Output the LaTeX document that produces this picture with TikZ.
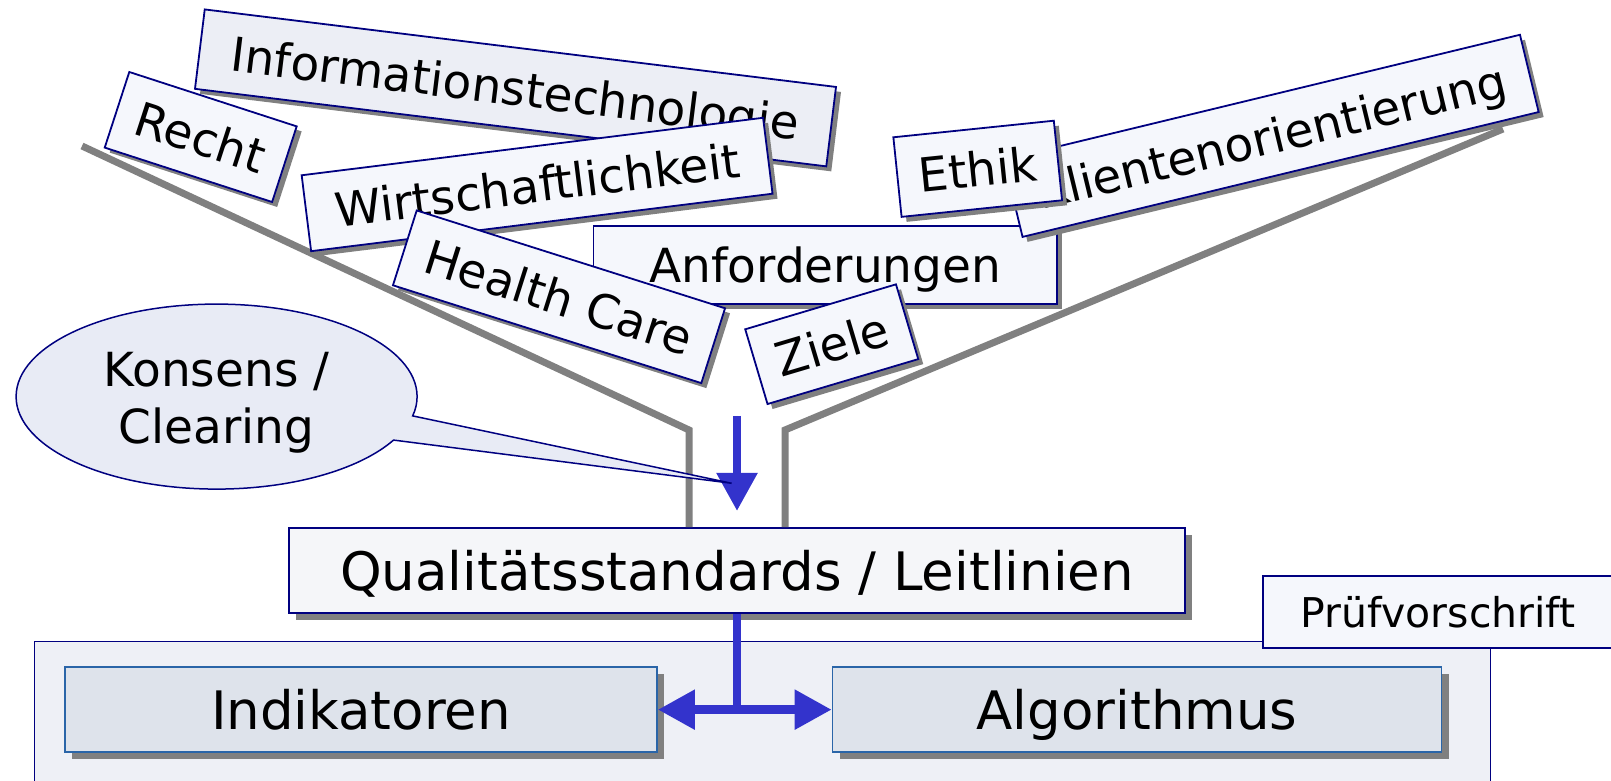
\documentclass[tikz,border=0pt]{standalone}
\usepackage{fontspec}
\setmainfont{DejaVu Sans}
\usetikzlibrary{arrows.meta,shadows,shapes.callouts,calc}
\definecolor{navy}{HTML}{000080}
\definecolor{lblfill}{HTML}{F5F7FC}
\definecolor{infofill}{HTML}{ECEEF5}
\definecolor{qfill}{HTML}{F5F6F9}
\definecolor{framefill}{HTML}{EEF0F6}
\definecolor{calloutfill}{HTML}{E8EBF5}
\definecolor{innerfill}{HTML}{DEE3EB}
\definecolor{innerdraw}{HTML}{2A65A8}
\definecolor{shadowgray}{HTML}{808080}
\definecolor{funnelgray}{HTML}{808080}
\definecolor{arrowblue}{HTML}{3333CC}
\tikzset{
  lbl/.style={draw=navy, line width=1.8pt, fill=lblfill, inner sep=0pt,
    font=\fontsize{47}{56}\selectfont, text height=45pt, text depth=9.4pt,
    drop shadow={shadow xshift=5pt, shadow yshift=-5pt, opacity=1, fill=shadowgray}},
  mainbox/.style={draw=navy, line width=1.8pt, fill=qfill, inner sep=0pt,
    font=\fontsize{53}{60}\selectfont, text height=50pt, text depth=10.4pt,
    drop shadow={shadow xshift=7pt, shadow yshift=-7pt, opacity=1, fill=shadowgray}},
  innerbox/.style={mainbox, draw=innerdraw, fill=innerfill},
  framebox/.style={draw=navy, line width=1.5pt, fill=framefill, inner sep=0pt},
  pruefbox/.style={draw=navy, line width=1.8pt, fill=lblfill, inner sep=0pt,
    font=\fontsize{41}{48}\selectfont, text height=38pt, text depth=8pt},
  funnel/.style={draw=funnelgray, line width=7pt},
  bluearrow/.style={draw=arrowblue, fill=arrowblue, line width=8.5pt},
  bubble/.style={ellipse callout, draw=navy, line width=1.5pt, fill=calloutfill,
    inner sep=0pt, minimum width=401pt, minimum height=185pt,
    callout pointer arc=16},
  bubbletext/.style={font=\fontsize{47}{57}\selectfont, align=center, inner sep=0pt},
}
\begin{document}
\begin{tikzpicture}[x=1pt,y=1pt]
\useasboundingbox (0,0) rectangle (1611,781);
\clip (0,0) rectangle (1611,781);

% lower frame and Pruefvorschrift
\node[framebox, anchor=north west, minimum width=1456pt, minimum height=180pt] (frame) at (33.5,140.3) {};
\node[pruefbox, minimum width=350pt, minimum height=72.3pt] (pruef) at (1438,168.85) {Prüfvorschrift};

% main box
\node[mainbox, minimum width=896pt, minimum height=85pt] (q) at (737,210.5) {Qualitätsstandards / Leitlinien};

% funnel
\coordinate (fl1) at (82,635);
\coordinate (fl2) at (689,351);
\coordinate (fr1) at (1503,652);
\coordinate (fr2) at (785,351);
\draw[funnel] (fl1) -- (fl2) -- (fl2 |- q.north);
\draw[funnel] (fr1) -- (fr2) -- (fr2 |- q.north);

% inner boxes
\node[innerbox, minimum width=592pt, minimum height=85.3pt] (ind) at (361,71.35) {Indikatoren};
\node[innerbox, minimum width=609pt, minimum height=85.3pt] (alg) at (1137.05,71.35) {Algorithmus};

% arrows
\coordinate (dtop) at (737,365);
\coordinate (dtip) at (737,270);
\draw[bluearrow, -{Triangle[length=38pt,width=39pt]}] (dtop) -- (dtip);
\draw[bluearrow] (q.south) -- (q.south |- ind.east);
\draw[bluearrow, {Triangle[length=37pt,width=38pt]}-{Triangle[length=37pt,width=38pt]}] (ind.east) -- (alg.west);

% callout
\coordinate (ctip) at (731.7,297.7);
\node[bubble, callout absolute pointer={(ctip)}] (kons) at (216.6,384.4) {};
\node[bubbletext] (konstext) at ($(kons.center)+(0,-6)$) {Konsens /\\Clearing};

% labels
\node[lbl, fill=infofill, minimum width=636pt, minimum height=80pt, rotate=-7] (info) at (515.5,693.1) {Informationstechnologie};
\node[lbl, minimum width=176pt, minimum height=79.5pt, rotate=-18] (recht) at (200.7,644) {Recht};
\node[lbl, minimum width=465pt, minimum height=76.5pt, rotate=7.1] (wirt) at (537.1,596.5) {Wirtschaftlichkeit};
\node[lbl, minimum width=463.5pt, minimum height=78.3pt] (anf) at (825.25,516.15) {Anforderungen};
\node[lbl, minimum width=323.5pt, minimum height=78.5pt, rotate=-17.6] (hc) at (559,484.2) {Health Care};
\node[lbl, minimum width=157.3pt, minimum height=78pt, rotate=16.6] (ziele) at (831.75,436.8) {Ziele};
\node[lbl, minimum width=531pt, minimum height=79.5pt, rotate=13.6] (klient) at (1271.25,645.15) {Klientenorientierung};
\node[lbl, minimum width=161.3pt, minimum height=80pt, rotate=5.9] (ethik) at (977.7,612.2) {Ethik};
\end{tikzpicture}
\end{document}
